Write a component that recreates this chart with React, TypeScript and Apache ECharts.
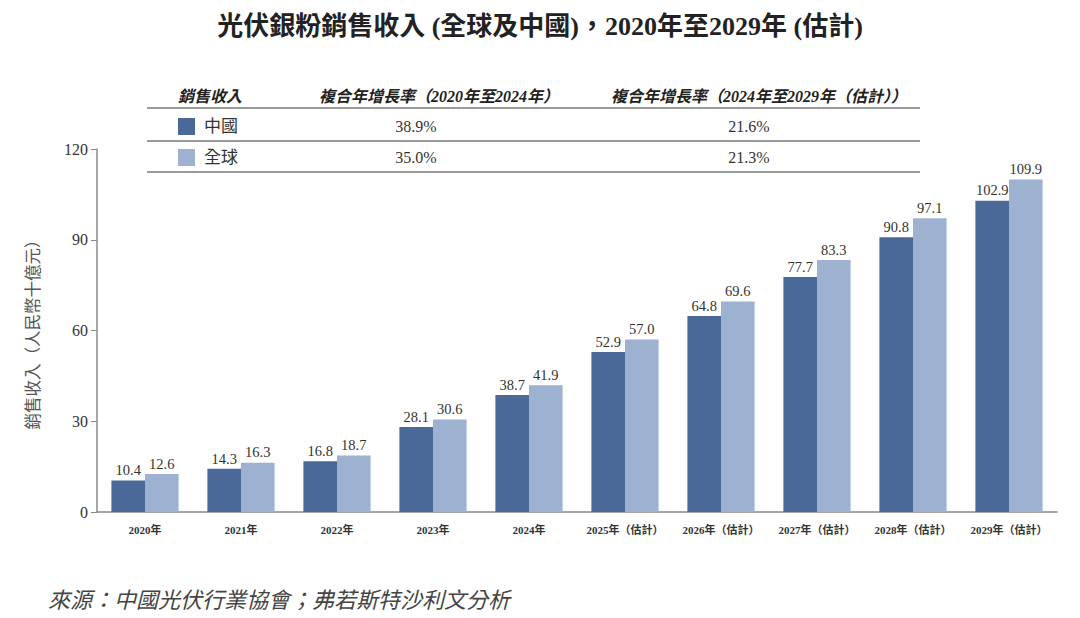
import React, { useEffect, useRef } from "react";
import * as echarts from "echarts";

const categories = ["2020年", "2021年", "2022年", "2023年", "2024年", "2025年（估計）", "2026年（估計）", "2027年（估計）", "2028年（估計）", "2029年（估計）"];
const chinaValues = [10.4, 14.3, 16.8, 28.1, 38.7, 52.9, 64.8, 77.7, 90.8, 102.9];
const globalValues = [12.6, 16.3, 18.7, 30.6, 41.9, 57.0, 69.6, 83.3, 97.1, 109.9];
const seriesNames = ["中國", "全球"];
const tableHeaders = ["銷售收入", "複合年增長率（2020年至2024年）", "複合年增長率（2024年至2029年（估計））"];
const cagr1 = ["38.9%", "35.0%"];
const cagr2 = ["21.6%", "21.3%"];
const yTicks = [0, 30, 60, 90, 120];

const title = "光伏銀粉銷售收入 (全球及中國)，2020年至2029年 (估計)";
const yName = "銷售收入（人民幣十億元）";
const source = "來源：中國光伏行業協會；弗若斯特沙利文分析";

const DARK = "#4a6898";
const LIGHT = "#9db1d1";
const SERIF = "'Liberation Serif', 'Times New Roman', 'Noto Sans CJK TC', serif";

export default function App() {
  const ref = useRef<HTMLDivElement>(null);
  useEffect(() => {
    if (!ref.current) return;
    const chart = echarts.init(ref.current, undefined, { renderer: "svg" });
    const colors = [DARK, LIGHT];
    const rowY = [126, 157];
    const graphic: any[] = [
      { type: "text", x: 178, y: 96, style: { text: tableHeaders[0], font: `italic bold 16px ${SERIF}`, fill: "#222", verticalAlign: "middle" } },
      { type: "text", x: 439, y: 96, style: { text: tableHeaders[1], font: `italic bold 16px ${SERIF}`, fill: "#222", align: "center", verticalAlign: "middle" } },
      { type: "text", x: 759, y: 96, style: { text: tableHeaders[2], font: `italic bold 16px ${SERIF}`, fill: "#222", align: "center", verticalAlign: "middle" } },
      { type: "line", shape: { x1: 147, y1: 108, x2: 920, y2: 108 }, style: { stroke: "#9a9a9a", lineWidth: 2 } },
      { type: "line", shape: { x1: 147, y1: 141, x2: 920, y2: 141 }, style: { stroke: "#9a9a9a", lineWidth: 2 } },
      { type: "line", shape: { x1: 147, y1: 172, x2: 920, y2: 172 }, style: { stroke: "#9a9a9a", lineWidth: 2 } },
    ];
    seriesNames.forEach((n, i) => {
      graphic.push({ type: "rect", shape: { x: 178, y: rowY[i] - 8, width: 17, height: 17 }, style: { fill: colors[i] } });
      graphic.push({ type: "text", x: 204, y: rowY[i], style: { text: n, font: `17px ${SERIF}`, fill: "#333", verticalAlign: "middle" } });
      graphic.push({ type: "text", x: 416, y: rowY[i], style: { text: cagr1[i], font: `16px ${SERIF}`, fill: "#333", align: "center", verticalAlign: "middle" } });
      graphic.push({ type: "text", x: 749, y: rowY[i], style: { text: cagr2[i], font: `16px ${SERIF}`, fill: "#333", align: "center", verticalAlign: "middle" } });
    });
    graphic.push({ type: "text", x: 48, y: 600, style: { text: source, font: `italic 22px ${SERIF}`, fill: "#444", verticalAlign: "middle" } });

    chart.setOption({
      animation: false,
      title: {
        text: title,
        left: "center",
        top: 8,
        textStyle: { fontFamily: SERIF, fontWeight: "bold", fontSize: 26, color: "#222" },
      },
      grid: { left: 97, right: 23, top: 149, bottom: 106 },
      xAxis: {
        type: "category",
        data: categories,
        axisLine: { lineStyle: { color: "#8a8a8a", width: 1.5 } },
        axisTick: { show: false },
        axisLabel: { fontFamily: SERIF, fontSize: 11, fontWeight: "bold", color: "#333", margin: 12, interval: 0 },
      },
      yAxis: {
        type: "value",
        min: yTicks[0],
        max: yTicks[yTicks.length - 1],
        interval: 30,
        name: yName,
        nameLocation: "middle",
        nameRotate: 90,
        nameGap: 55,
        nameTextStyle: { fontFamily: SERIF, fontSize: 16.5, color: "#555" },
        axisLine: { show: true, lineStyle: { color: "#8a8a8a", width: 1.5 } },
        axisTick: { show: true, length: 6, lineStyle: { color: "#8a8a8a" } },
        axisLabel: { fontFamily: SERIF, fontSize: 16, color: "#333", margin: 9 },
        splitLine: { show: false },
      },
      series: [
        {
          name: seriesNames[0],
          type: "bar",
          data: chinaValues,
          itemStyle: { color: DARK },
          barGap: "0%",
          barCategoryGap: "30%",
          label: { show: true, position: "top", fontFamily: SERIF, fontSize: 14.5, color: "#333", distance: 3, formatter: (p: any) => p.value.toFixed(1) },
        },
        {
          name: seriesNames[1],
          type: "bar",
          data: globalValues,
          itemStyle: { color: LIGHT },
          barGap: "0%",
          barCategoryGap: "30%",
          label: { show: true, position: "top", fontFamily: SERIF, fontSize: 14.5, color: "#333", distance: 3, formatter: (p: any) => p.value.toFixed(1) },
        },
      ],
      graphic,
    });
    return () => chart.dispose();
  }, []);
  return <div ref={ref} style={{ width: 1080, height: 618, margin: -8 }} />;
}
